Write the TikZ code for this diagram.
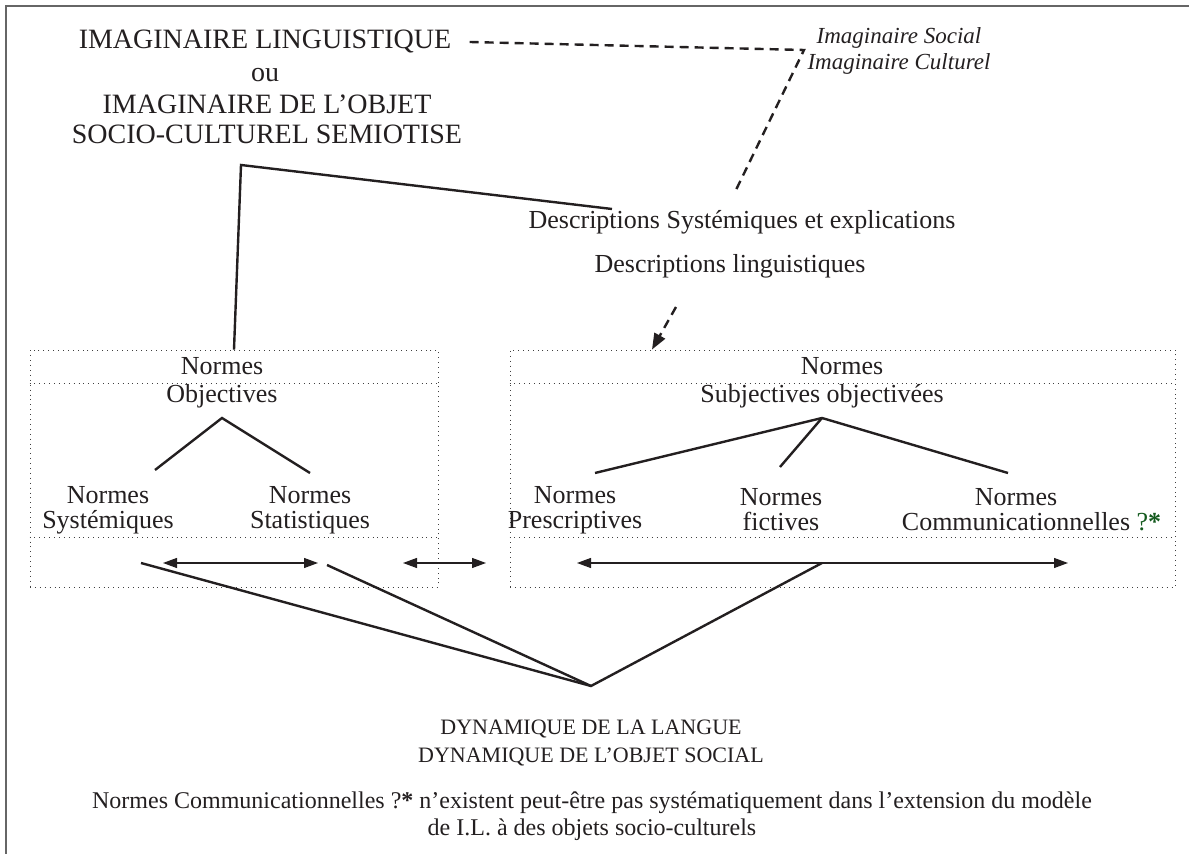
\documentclass[tikz,border=0pt]{standalone}
\usepackage{fontspec}
\setmainfont{Liberation Serif}
\usetikzlibrary{arrows.meta}
\definecolor{framegray}{gray}{0.4}
\definecolor{txtcol}{RGB}{35,31,32}
\definecolor{astgreen}{RGB}{20,90,30}
\begin{document}
\begin{tikzpicture}[x=0.5pt,y=-0.5pt,
  txt/.style={inner sep=0pt, anchor=center, text=txtcol, align=center},
  big/.style={txt, font=\fontsize{14}{16}\selectfont},
  mid/.style={txt, font=\fontsize{13}{12.5}\selectfont},
  itl/.style={txt, font=\fontsize{11.5}{14}\selectfont\itshape},
  dyn/.style={txt, font=\fontsize{11}{14}\selectfont},
  note/.style={txt, font=\fontsize{12}{13.5}\selectfont},
  solidline/.style={line width=1.2pt, txtcol},
  dashline/.style={line width=1.2pt, txtcol, dash pattern=on 4.5pt off 3pt},
  dotbox/.style={line width=0.45pt, dotted, black!75},
  dbl/.style={line width=0.6pt, txtcol, {Triangle[length=7pt,width=5pt]}-{Triangle[length=7pt,width=5pt]}},
]
\useasboundingbox (0,0) rectangle (1189,854);
% frame
\draw[framegray, line width=1pt] (6,854) -- (6,6) -- (1189,6);

% top texts
\node[big] (il) at (265,42) {IMAGINAIRE LINGUISTIQUE};
\node[big] (ou) at (265,75) {ou};
\node[big] (io) at (267,104) {IMAGINAIRE DE L’OBJET};
\node[big] (sc) at (267,134) {SOCIO-CULTUREL SEMIOTISE};
\node[itl] (is) at (899,38) {Imaginaire Social};
\node[itl] (ic) at (899,64) {Imaginaire Culturel};
\node[mid] (ds) at (742,222) {Descriptions Systémiques et explications};
\node[mid] (dl) at (730,266) {Descriptions linguistiques};

% boxes
\node[dotbox, draw, minimum width=204pt, minimum height=118.5pt, inner sep=0pt] (lbox) at (234,468.5) {};
\node[dotbox, draw, minimum width=332.5pt, minimum height=118.5pt, inner sep=0pt] (rbox) at (842.5,468.5) {};
\draw[dotbox] (lbox.west |- 0,383) -- (lbox.east |- 0,383);
\draw[dotbox] (lbox.west |- 0,537) -- (lbox.east |- 0,537);
\draw[dotbox] (rbox.west |- 0,383) -- (rbox.east |- 0,383);
\draw[dotbox] (rbox.west |- 0,537) -- (rbox.east |- 0,537);

% left box contents
\node[mid] (ln) at (222,366) {Normes};
\node[mid] (lo) at (222,396) {Objectives};
\node[mid] (lsys) at (108,510) {Normes\\Systémiques};
\node[mid] (lsta) at (310,510) {Normes\\Statistiques};
\coordinate (lapex) at (222,418);
\coordinate (lsysend) at (155,470);
\coordinate (lstaend) at (310,473);
\draw[solidline] (lsysend) -- (lapex) -- (lstaend);

% right box contents
\node[mid] (rn) at (842,366) {Normes};
\node[mid] (rso) at (822,396) {Subjectives objectivées};
\node[mid] (rpre) at (575,510) {Normes\\Prescriptives};
\node[mid] (rfic) at (781,510) {Normes\\fictives};
\node[mid] (rcom) at (1016,510) {Normes\\Communicationnelles\rlap{ \textcolor{astgreen}{?\textbf{*}}}};
\coordinate (rapex) at (822,418);
\coordinate (rpreend) at (595,473);
\coordinate (rficend) at (780,467);
\coordinate (rcomend) at (1008,473);
\draw[solidline] (rpreend) -- (rapex) -- (rcomend);
\draw[solidline] (rapex) -- (rficend);

% arrows row
\coordinate (la1) at (163,563);
\coordinate (la2) at (318,563);
\coordinate (ma1) at (403,563);
\coordinate (ma2) at (486,563);
\coordinate (ra1) at (577,563);
\coordinate (ra2) at (1068,563);
\coordinate (rmid) at (822,563);
\draw[dbl] (la1) -- (la2);
\draw[dbl] (ma1) -- (ma2);
\draw[dbl] (ra1) -- (ra2);

% bottom texts
\node[dyn] (dy1) at (591,729) {DYNAMIQUE DE LA LANGUE};
\node[dyn] (dy2) at (591,757) {DYNAMIQUE DE L’OBJET SOCIAL};
\node[note] (n1) at (592,803) {Normes Communicationnelles ?\textbf{*} n’existent peut-être pas systématiquement dans l’extension du modèle};
\node[note] (n2) at (592,830) {de I.L. à des objets socio-culturels};

% convergence lines
\coordinate (conv) at (591,686);
\coordinate (s1) at (141,563);
\coordinate (s2) at (327,565);
\draw[solidline] (s1) -- (conv) -- (rmid);
\draw[solidline] (s2) -- (conv);

% connectors to upper part
\coordinate (corner) at (241,165);
\coordinate (dsw) at (612,209);
\draw[solidline] (lbox.north) -- (corner) -- (dsw);
\coordinate (icw) at (804,50);
\coordinate (dstop) at (735,192);
\draw[dashline] ([xshift=9pt]il.east) -- (icw) -- (dstop);
\coordinate (dlb) at (676,307);
\draw[dashline, -{Triangle[length=8pt,width=6pt]}] (dlb) -- (rbox.north -| 652,0);
\end{tikzpicture}
\end{document}
